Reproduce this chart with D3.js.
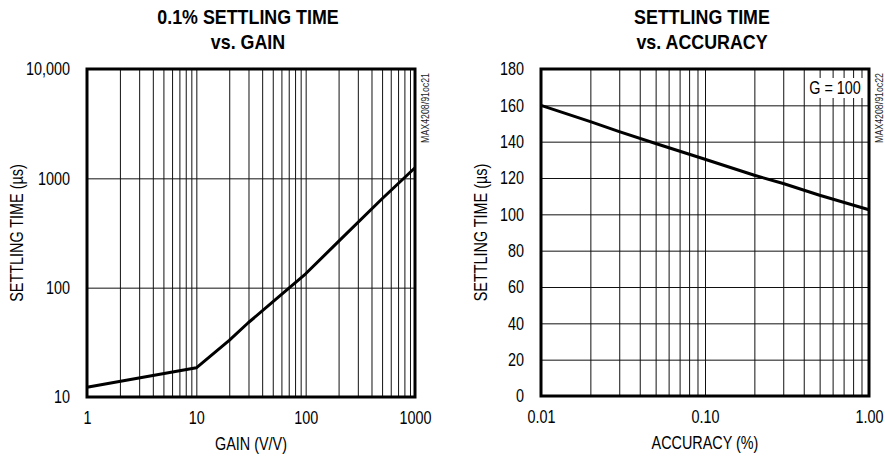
<!DOCTYPE html>
<html>
<head>
<meta charset="utf-8">
<script src="https://cdn.jsdelivr.net/npm/d3@7"></script>
<style>
  body { margin: 0; background: #fff; }
  text { font-family: "Liberation Sans", Arial, sans-serif; fill: #000; }
  .title { font-weight: bold; font-size: 21px; }
  .tick text { font-size: 18px; }
  .grid line { stroke: #111; stroke-width: 1; }
  .grid path { display: none; }
  .frame { fill: none; stroke: #000; stroke-width: 3; }
  .curve { fill: none; stroke: #000; stroke-width: 3; stroke-linejoin: round; }
</style>
</head>
<body>
<div id="chart"></div>
<script>
// left chart: 0.1% settling time vs gain
var gainX = [1, 10, 20, 30, 50, 100, 200, 500, 1000];
var gainSettle = [12.3, 18.5, 33, 48, 74, 134, 265, 650, 1250];
var gainXTicks = [1, 10, 100, 1000];
var gainXLabels = ["1", "10", "100", "1000"];
var gainYTicks = [10, 100, 1000, 10000];
var gainYLabels = ["10", "100", "1000", "10,000"];

// right chart: settling time vs accuracy (G = 100)
var accX = [0.01, 0.02, 0.03, 0.05, 0.1, 0.2, 0.3, 0.5, 1];
var accSettle = [160, 151, 145.5, 139, 130.3, 121.5, 117, 110.5, 102.5];
var accXTicks = [0.01, 0.1, 1];
var accXLabels = ["0.01", "0.10", "1.00"];
var accYTicks = [0, 20, 40, 60, 80, 100, 120, 140, 160, 180];

function logMinors(lo, hi) {
    // 1..9 in each decade, for the grid
    var out = [];
    for (var d = lo; d < hi; d *= 10) {
        for (var k = 1; k <= 9; k++) out.push(+(d * k).toPrecision(3));
    }
    out.push(hi);
    return out;
}

// no narrow font installed, so squeeze the regular one
function narrow(sel, k) {
    sel.each(function() {
        var t = d3.select(this);
        var x = +t.attr("x") || 0;
        t.attr("x", x / k)
         .attr("transform", (t.attr("transform") || "") + " scale(" + k + ",1)");
    });
}

function drawPanel(svg, opt) {
    var g = svg.append("g").attr("transform", "translate(" + opt.left + "," + opt.top + ")");
    var w = opt.size, h = opt.hgt;

    var x = d3.scaleLog().domain(opt.xDomain).range([0, w]);
    var y = opt.yLog ? d3.scaleLog().domain(opt.yDomain).range([h, 0])
                     : d3.scaleLinear().domain(opt.yDomain).range([h, 0]);

    // vertical grid
    g.append("g").attr("class", "grid")
        .attr("transform", "translate(0," + h + ")")
        .call(d3.axisBottom(x).tickValues(opt.xGrid).tickSize(-h).tickFormat(""));
    // horizontal grid
    g.append("g").attr("class", "grid")
        .call(d3.axisLeft(y).tickValues(opt.yGrid).tickSize(-w).tickFormat(""));

    // tick labels
    var xa = g.append("g")
        .attr("transform", "translate(0," + h + ")")
        .call(d3.axisBottom(x).tickValues(opt.xTicks).tickSize(0).tickPadding(14)
              .tickFormat(function(d, i) { return opt.xLabels[i]; }));
    xa.select(".domain").remove();
    var ya = g.append("g")
        .call(d3.axisLeft(y).tickValues(opt.yTicks).tickSize(0).tickPadding(17)
              .tickFormat(function(d, i) { return opt.yLabels[i]; }));
    ya.select(".domain").remove();
    g.selectAll(".tick text").attr("fill", "#000").attr("font-family", null).call(narrow, 0.8);

    if (opt.note) {
        var bx = w - 64, by = 9;
        g.append("rect").attr("x", bx).attr("y", by).attr("width", 58).attr("height", 20).attr("fill", "#fff");
        g.append("text").attr("x", bx + 30).attr("y", by + 16)
            .attr("text-anchor", "middle").style("font-size", "18px").text(opt.note)
            .call(narrow, 0.8);
    }

    var line = d3.line()
        .x(function(d) { return x(d[0]); })
        .y(function(d) { return y(d[1]); });
    g.append("path").attr("class", "curve")
        .datum(d3.zip(opt.xs, opt.ys))
        .attr("d", line);

    g.append("rect").attr("class", "frame").attr("width", w).attr("height", h);

    // titles
    g.append("text").attr("class", "title").attr("x", w / 2 - 3).attr("y", -45)
        .attr("text-anchor", "middle").text(opt.title1).call(narrow, 0.85);
    g.append("text").attr("class", "title").attr("x", w / 2 - 3).attr("y", -20)
        .attr("text-anchor", "middle").text(opt.title2).call(narrow, 0.85);

    g.append("text").attr("x", w / 2).attr("y", h + 53)
        .attr("text-anchor", "middle").style("font-size", "18px").text(opt.xTitle)
        .call(narrow, 0.8);
    g.append("text")
        .attr("transform", "translate(" + opt.yTitleX + "," + (h / 2) + ") rotate(-90)")
        .attr("text-anchor", "middle").style("font-size", "18px")
        .text("SETTLING TIME (\u00b5s)")
        .call(narrow, 0.8);

    g.append("text")
        .attr("transform", "translate(" + (w + 14) + ",4) rotate(-90)")
        .attr("text-anchor", "end").style("font-size", "11px").style("fill", "#222")
        .text(opt.code)
        .call(narrow, 0.8);
}

function init() {
    var svg = d3.select("#chart").append("svg")
        .attr("width", 885).attr("height", 458);

    drawPanel(svg, {
        left: 87, top: 69, size: 328, hgt: 328,
        xDomain: [1, 1000], yDomain: [10, 10000], yLog: true,
        xGrid: logMinors(1, 1000), yGrid: gainYTicks,
        xTicks: gainXTicks, xLabels: gainXLabels,
        yTicks: gainYTicks, yLabels: gainYLabels,
        xs: gainX, ys: gainSettle,
        title1: "0.1% SETTLING TIME", title2: "vs. GAIN",
        xTitle: "GAIN (V/V)", yTitleX: -64, code: "MAX4208/91oc21"
    });

    drawPanel(svg, {
        left: 541, top: 69, size: 328, hgt: 327,
        xDomain: [0.01, 1], yDomain: [0, 180], yLog: false,
        xGrid: logMinors(0.01, 1), yGrid: accYTicks,
        xTicks: accXTicks, xLabels: accXLabels,
        yTicks: accYTicks, yLabels: accYTicks.map(String),
        xs: accX, ys: accSettle,
        title1: "SETTLING TIME", title2: "vs. ACCURACY",
        xTitle: "ACCURACY (%)", yTitleX: -54, code: "MAX4208/91oc22", note: "G = 100"
    });
}

window.onload = init;
</script>
</body>
</html>
